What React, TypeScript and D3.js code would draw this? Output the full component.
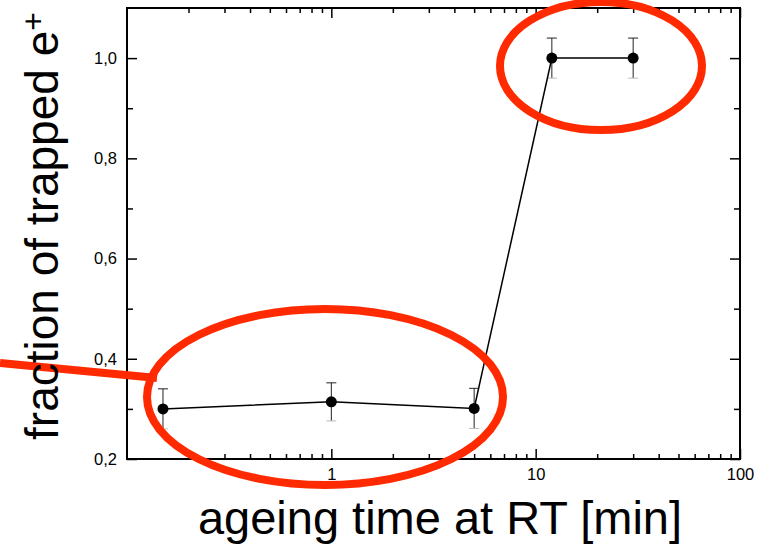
import React, { useEffect, useRef } from 'react';
import * as d3 from 'd3';

// ageing time [min] and fraction of trapped positrons
const ageingTime = [0.15, 1, 5, 12, 30];
const trappedFraction = [0.3, 0.314, 0.301, 1.0, 1.0];
const fractionError = [0.04, 0.038, 0.04, 0.04, 0.04];

const xMajorTicks = [1, 10, 100];
const xMajorLabels = ['1', '10', '100'];
const yMajorTicks = [0.2, 0.4, 0.6, 0.8, 1.0];
const yTickLabels = ['0,2', '0,4', '0,6', '0,8', '1,0'];
const yMinorTicks = [0.3, 0.5, 0.7, 0.9];

const WIDTH = 765;
const HEIGHT = 545;
const RED = '#ff2a00';
const FONT = '"Liberation Sans", Arial, sans-serif';

const App: React.FC = () => {
  const svgRef = useRef<SVGSVGElement>(null);

  useEffect(() => {
    if (!svgRef.current) return;
    const svg = d3.select(svgRef.current);
    svg.selectAll('*').remove();

    const margin = { top: 8, right: 25, bottom: 86, left: 127 };
    const innerWidth = WIDTH - margin.left - margin.right;
    const innerHeight = HEIGHT - margin.top - margin.bottom;

    const x = d3.scaleLog().domain([0.1, 100]).range([0, innerWidth]);
    const y = d3.scaleLinear().domain([0.2, 1.1]).range([innerHeight, 0]);

    // minor log ticks 2..9 of each decade
    const xMinorTicks: number[] = [];
    [0.1, 1, 10].forEach(d => {
      for (let k = 2; k <= 9; k++) xMinorTicks.push(d * k);
    });

    const g = svg.append('g').attr('transform', `translate(${margin.left},${margin.top})`);

    const style = (sel: d3.Selection<SVGGElement, unknown, null, undefined>) => {
      sel.select('.domain').remove();
      sel.selectAll('line').attr('stroke', '#000').attr('stroke-width', 1.5);
      sel.selectAll('text')
        .attr('fill', '#000')
        .style('font-family', FONT)
        .style('font-size', '16.5px');
    };

    // bottom
    g.append('g').attr('transform', `translate(0,${innerHeight})`)
      .call(d3.axisBottom(x).tickValues(xMajorTicks).tickSize(-10).tickPadding(9)
        .tickFormat((d, i) => xMajorLabels[i]))
      .call(style);
    g.append('g').attr('transform', `translate(0,${innerHeight})`)
      .call(d3.axisBottom(x).tickValues(xMinorTicks).tickSize(-5).tickFormat(() => ''))
      .call(style);
    // top
    g.append('g')
      .call(d3.axisTop(x).tickValues(xMajorTicks).tickSize(-10).tickFormat(() => ''))
      .call(style);
    g.append('g')
      .call(d3.axisTop(x).tickValues(xMinorTicks).tickSize(-5).tickFormat(() => ''))
      .call(style);
    // left
    g.append('g')
      .call(d3.axisLeft(y).tickValues(yMajorTicks).tickSize(-10).tickPadding(10)
        .tickFormat((d, i) => yTickLabels[i]))
      .call(style);
    g.append('g')
      .call(d3.axisLeft(y).tickValues(yMinorTicks).tickSize(-6).tickFormat(() => ''))
      .call(style);
    // right
    g.append('g').attr('transform', `translate(${innerWidth},0)`)
      .call(d3.axisRight(y).tickValues(yMajorTicks).tickSize(-10).tickFormat(() => ''))
      .call(style);
    g.append('g').attr('transform', `translate(${innerWidth},0)`)
      .call(d3.axisRight(y).tickValues(yMinorTicks).tickSize(-6).tickFormat(() => ''))
      .call(style);

    // frame
    g.append('rect')
      .attr('width', innerWidth)
      .attr('height', innerHeight)
      .attr('fill', 'none')
      .attr('stroke', '#000')
      .attr('stroke-width', 2);

    // red annotations (behind data)
    svg.append('ellipse')
      .attr('cx', 325).attr('cy', 397).attr('rx', 178).attr('ry', 88)
      .attr('fill', 'none').attr('stroke', RED).attr('stroke-width', 8);
    svg.append('ellipse')
      .attr('cx', 601).attr('cy', 66).attr('rx', 101).attr('ry', 64)
      .attr('fill', 'none').attr('stroke', RED).attr('stroke-width', 8);
    svg.append('line')
      .attr('x1', 0).attr('y1', 363).attr('x2', 157).attr('y2', 378)
      .attr('stroke', RED).attr('stroke-width', 8);

    const data = ageingTime.map((t, i) => ({ t, v: trappedFraction[i], e: fractionError[i] }));

    // error bars
    const eb = g.append('g').attr('stroke', '#222').attr('stroke-width', 1);
    data.forEach(d => {
      const cx = x(d.t);
      eb.append('line').attr('x1', cx).attr('x2', cx).attr('y1', y(d.v - d.e)).attr('y2', y(d.v + d.e));
      eb.append('line').attr('x1', cx - 5).attr('x2', cx + 5).attr('y1', y(d.v + d.e)).attr('y2', y(d.v + d.e));
      eb.append('line').attr('x1', cx - 5).attr('x2', cx + 5).attr('y1', y(d.v - d.e)).attr('y2', y(d.v - d.e))
        .attr('stroke', '#bbb');
    });

    const line = d3.line<{ t: number; v: number }>().x(d => x(d.t)).y(d => y(d.v));
    g.append('path').datum(data).attr('d', line)
      .attr('fill', 'none').attr('stroke', '#000').attr('stroke-width', 1.5);

    g.selectAll('.pt').data(data).enter().append('circle')
      .attr('cx', d => x(d.t)).attr('cy', d => y(d.v)).attr('r', 5.5).attr('fill', '#000');

    // axis titles
    svg.append('text')
      .attr('x', 440).attr('y', 534)
      .attr('text-anchor', 'middle')
      .style('font-family', FONT)
      .style('font-size', '47px')
      .text('ageing time at RT [min]');

    const yt = svg.append('text')
      .attr('transform', 'translate(58,226) rotate(-90)')
      .attr('text-anchor', 'middle')
      .style('font-family', FONT)
      .style('font-size', '46px');
    yt.append('tspan').text('fraction of trapped e');
    yt.append('tspan').attr('dy', -14).style('font-size', '32px').text('+');
  }, []);

  return (
    <svg ref={svgRef} width={WIDTH} height={HEIGHT} viewBox={`0 0 ${WIDTH} ${HEIGHT}`}
      style={{ position: 'absolute', left: 0, top: 0, background: '#fff' }} />
  );
};

export default App;
